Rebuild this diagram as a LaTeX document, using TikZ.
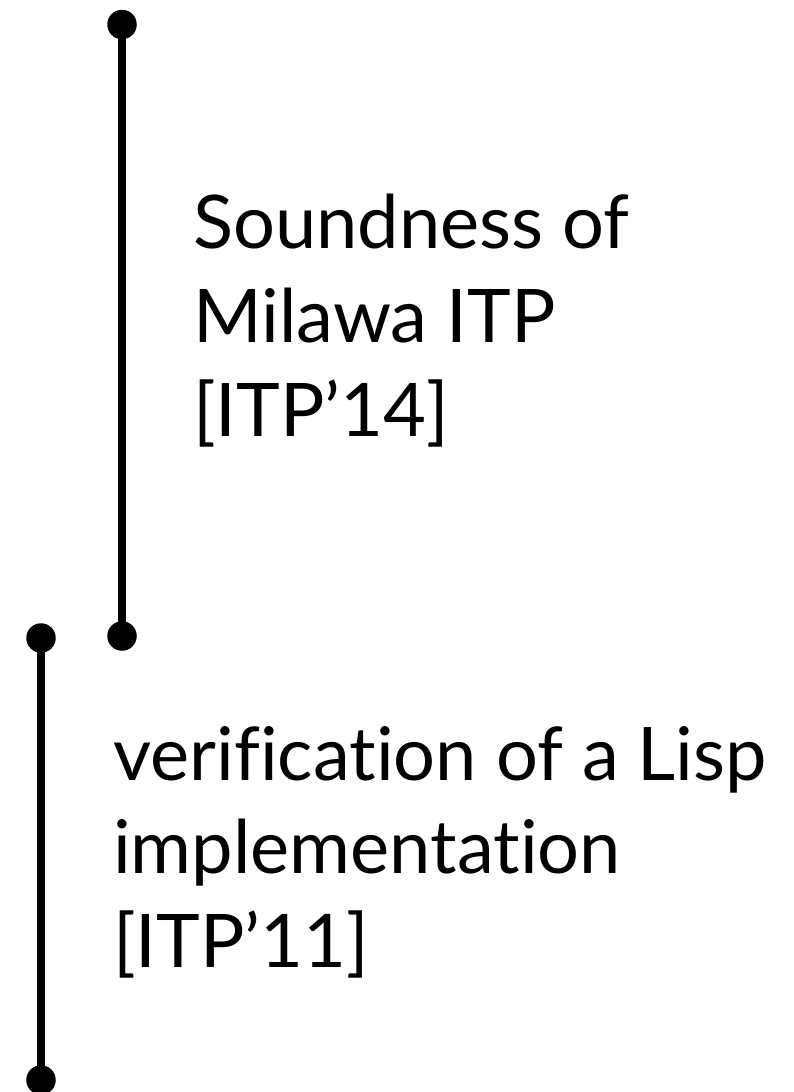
\documentclass[tikz,border=0pt]{standalone}
\usepackage{fontspec}
\setmainfont{Lato}[Ligatures=CommonOff]
\begin{document}
\begin{tikzpicture}[x=1pt,y=-1pt,
  dot/.style={circle,fill=black,inner sep=0pt,minimum size=29.5pt},
  bar/.style={line width=8pt},
  lbl/.style={anchor=base west,inner sep=0pt,font=\fontsize{74}{94}\selectfont}]
  \useasboundingbox (0,0) rectangle (794,1092);
  % upper span
  \node[dot] (t1) at (122,24.5) {};
  \node[dot] (b1) at (122,636) {};
  \draw[bar] (t1.center) -- (b1.center);
  % lower span
  \node[dot] (t2) at (41,638) {};
  \node[dot] (b2) at (41,1080) {};
  \draw[bar] (t2.center) -- (b2.center);
  % labels
  \node[lbl] (l11) at (193,248) {Soundness of};
  \node[lbl] (l12) at (193,342) {Milawa ITP};
  \node[lbl] (l13) at (193,436) {[ITP’14]};
  \node[lbl] (l21) at (113,780) {verification of a Lisp};
  \node[lbl] (l22) at (113,873.5) {implementation};
  \node[lbl] (l23) at (113,967) {[ITP’11]};
\end{tikzpicture}
\end{document}
